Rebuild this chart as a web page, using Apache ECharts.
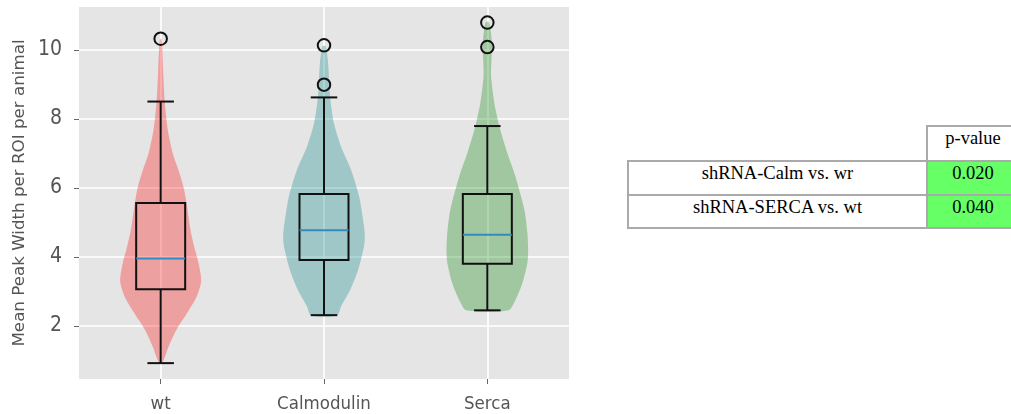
<!DOCTYPE html>
<html><head><meta charset="utf-8">
<script src="https://cdn.jsdelivr.net/npm/echarts@6/dist/echarts.min.js"></script>
<style>
html,body{margin:0;padding:0;background:#fff;overflow:hidden;width:1011px;height:414px;}
#chart{position:absolute;left:0;top:0;width:1011px;height:414px;}
.cell{position:absolute;box-sizing:border-box;border:2px solid #aaaaaa;font-family:'Liberation Serif','Times New Roman',serif;font-size:18.5px;line-height:20px;color:#000;text-align:center;padding-top:1px;white-space:nowrap;background:#fff;}
.cell.pv{background:#66FF66;}
</style></head><body>
<div id="chart"></div>
<div id="ptable"></div>
<script>
// ---- data ----
const categories = ['wt', 'Calmodulin', 'Serca'];
const positions = [1, 2, 3];
const whiskerLow  = [0.92, 2.31, 2.45];
const quartile1   = [3.06, 3.91, 3.80];
const medians     = [3.95, 4.77, 4.64];
const quartile3   = [5.56, 5.82, 5.82];
const whiskerHigh = [8.50, 8.62, 7.79];
const outliersWt = [10.32];
const outliersCalmodulin = [10.13, 8.99];
const outliersSerca = [10.79, 10.08];
// violin profiles: [value, half width in x units]
const violinWt = [[0.9,0.004],[1.0,0.018],[1.4,0.049],[1.9,0.098],[2.4,0.166],[2.85,0.221],[3.3,0.248],[3.8,0.233],[4.3,0.205],[4.8,0.182],[5.5,0.160],[6.0,0.141],[6.5,0.110],[7.0,0.074],[7.7,0.043],[8.5,0.025],[9.2,0.017],[10.0,0.010],[10.3,0.005]];
const violinCalmodulin = [[2.3,0.080],[2.56,0.104],[3.04,0.160],[3.62,0.209],[4.3,0.245],[4.6,0.250],[4.95,0.243],[5.75,0.215],[6.52,0.166],[7.2,0.104],[7.87,0.061],[8.65,0.037],[9.61,0.025],[10.1,0.010]];
const violinSerca = [[2.45,0.129],[2.75,0.172],[3.24,0.215],[3.82,0.245],[4.2,0.250],[4.7,0.245],[5.36,0.227],[6.33,0.172],[7.0,0.123],[7.78,0.074],[8.45,0.043],[9.23,0.023],[9.7,0.025],[10.1,0.029],[10.5,0.022],[10.8,0.010]];
const yTicks = [2, 4, 6, 8, 10];
const yTitle = 'Mean Peak Width per ROI per animal';
const tableHeader = 'p-value';
const tableRows = ['shRNA-Calm vs. wr', 'shRNA-SERCA vs. wt'];
const pValues = ['0.020', '0.040'];

// ---- styles ----
const violinProfiles = [violinWt, violinCalmodulin, violinSerca];
const outlierLists = [outliersWt, outliersCalmodulin, outliersSerca];
const violinColors = ['rgba(255,0,0,0.3)', 'rgba(0,128,128,0.3)', 'rgba(0,128,0,0.3)'];
const condensed = "'DejaVu Sans Condensed', 'DejaVu Sans', sans-serif";
const boxHalf = 0.15, capHalf = 0.075;

// ---- table (HTML text) ----
(function(){
  const host = document.getElementById('ptable');
  const mk = (txt, cls, l, t, w, h) => {
    const d = document.createElement('div');
    d.className = 'cell' + (cls ? ' ' + cls : '');
    d.style.left = l + 'px'; d.style.top = t + 'px'; d.style.width = w + 'px'; d.style.height = h + 'px';
    d.textContent = txt;
    host.appendChild(d);
  };
  mk(tableHeader, '', 926, 125, 94, 37);
  const tops = [160, 194], hts = [36, 35];
  tableRows.forEach((r, i) => {
    mk(r, '', 627, tops[i], 301, hts[i]);
    mk(pValues[i], 'pv', 926, tops[i], 94, hts[i]);
  });
})();

// ---- chart ----
const chart = echarts.init(document.getElementById('chart'), null, {renderer: 'canvas'});
const outlierData = [];
outlierLists.forEach((lst, i) => lst.forEach(v => outlierData.push([positions[i], v])));

const option = {
  animation: false,
  grid: {left: 79, top: 7, width: 490, height: 372, show: true, backgroundColor: '#E5E5E5', borderWidth: 0},
  xAxis: {
    type: 'value', min: 0.5, max: 3.5,
    axisLine: {show: false},
    axisTick: {show: true, customValues: positions, length: 5, lineStyle: {color: '#666', width: 1}},
    axisLabel: {customValues: positions, formatter: v => categories[positions.indexOf(v)], fontSize: 18.5, color: '#555', margin: 16, fontFamily: condensed},
    splitLine: {show: true, lineStyle: {color: '#ffffff', width: 1.6}}
  },
  yAxis: {
    type: 'value', min: 0.46, max: 11.24,
    axisLine: {show: false},
    axisTick: {show: true, customValues: yTicks, length: 5, lineStyle: {color: '#666', width: 1}},
    axisLabel: {customValues: yTicks, fontSize: 21, color: '#555', margin: 17, fontFamily: condensed},
    splitLine: {show: true, lineStyle: {color: '#ffffff', width: 1.6}},
    name: yTitle, nameLocation: 'middle', nameRotate: 90, nameGap: 51,
    nameTextStyle: {fontSize: 16.7, color: '#555', fontFamily: "'DejaVu Sans', sans-serif"}
  },
  series: [
    {
      type: 'custom', z: 2,
      data: positions.map((p, i) => [p, i]),
      renderItem: function(params, api) {
        const pos = api.value(0);
        const i = api.value(1);
        const prof = violinProfiles[i];
        const right = prof.map(d => api.coord([pos + d[1], d[0]]));
        const left = prof.slice().reverse().map(d => api.coord([pos - d[1], d[0]]));
        return {type: 'polygon', shape: {points: right.concat(left), smooth: 0.25}, style: {fill: violinColors[i], stroke: null}};
      }
    },
    {
      type: 'custom', z: 3,
      data: positions.map((p, i) => [p, whiskerLow[i], quartile1[i], medians[i], quartile3[i], whiskerHigh[i]]),
      renderItem: function(params, api) {
        const pos = api.value(0), lo = api.value(1), q1 = api.value(2), med = api.value(3), q3 = api.value(4), hi = api.value(5);
        const c = (x, y) => api.coord([x, y]);
        const ls = {stroke: '#111', lineWidth: 2, fill: null};
        const line = (a, b, style) => ({type: 'line', shape: {x1: a[0], y1: a[1], x2: b[0], y2: b[1]}, style: style});
        const tl = c(pos - boxHalf, q3), br = c(pos + boxHalf, q1);
        return {type: 'group', children: [
          line(c(pos, q3), c(pos, hi), ls),
          line(c(pos, q1), c(pos, lo), ls),
          line(c(pos - capHalf, hi), c(pos + capHalf, hi), Object.assign({lineCap: 'square'}, ls)),
          line(c(pos - capHalf, lo), c(pos + capHalf, lo), Object.assign({lineCap: 'square'}, ls)),
          {type: 'rect', shape: {x: tl[0], y: tl[1], width: br[0] - tl[0], height: br[1] - tl[1]}, style: ls},
          line(c(pos - boxHalf, med), c(pos + boxHalf, med), {stroke: '#348ABD', lineWidth: 2})
        ]};
      }
    },
    {
      type: 'scatter', z: 4,
      data: outlierData,
      symbol: 'circle', symbolSize: 12.5,
      itemStyle: {color: 'rgba(0,0,0,0)', borderColor: '#111', borderWidth: 2, opacity: 1}
    }
  ]
};
chart.setOption(option);
</script>
</body></html>
